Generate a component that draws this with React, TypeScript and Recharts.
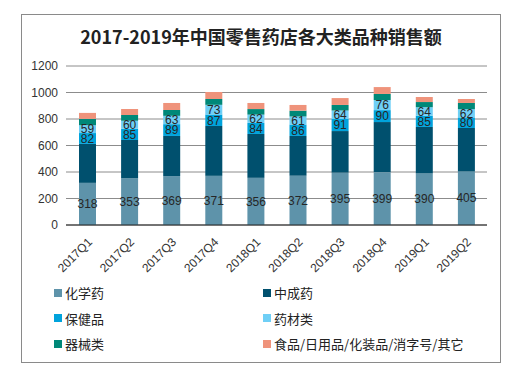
import React from 'react';
import { BarChart, Bar, XAxis, YAxis, CartesianGrid, LabelList } from 'recharts';

const quarters = ['2017Q1', '2017Q2', '2017Q3', '2017Q4', '2018Q1', '2018Q2', '2018Q3', '2018Q4', '2019Q1', '2019Q2'];
const chemical = [318, 353, 369, 371, 356, 372, 395, 399, 390, 405];
const tcm = [294, 289, 303, 376, 331, 300, 314, 378, 350, 327];
const health = [82, 85, 89, 87, 84, 86, 91, 90, 85, 80];
const herbs = [59, 60, 63, 73, 62, 61, 64, 76, 64, 62];
const devices = [48, 44, 44, 44, 42, 44, 42, 46, 39, 47];
const others = [45, 45, 53, 53, 46, 43, 52, 52, 38, 30];
const yTicks = [0, 200, 400, 600, 800, 1000, 1200];

const series = [
    { key: 'chemical', name: '化学药', color: '#5E93AA', values: chemical, label: true },
    { key: 'tcm', name: '中成药', color: '#00506E', values: tcm, label: false },
    { key: 'health', name: '保健品', color: '#00A3DC', values: health, label: true },
    { key: 'herbs', name: '药材类', color: '#6FCFF6', values: herbs, label: true },
    { key: 'devices', name: '器械类', color: '#008878', values: devices, label: false },
    { key: 'others', name: '食品/日用品/化装品/消字号/其它', color: '#EF937B', values: others, label: false },
];

const data = quarters.map((q, i) => {
    const row: Record<string, string | number> = { quarter: q };
    series.forEach(s => { row[s.key] = s.values[i]; });
    return row;
});

const font = "Arial, 'Liberation Sans', 'Noto Sans CJK SC', sans-serif";
const cjk = "'Noto Sans CJK SC', sans-serif";

// rotated quarter labels, ending just right of the category centre
const XTick = (props: any) => {
    const { x, y, payload } = props;
    const tx = x + 3;
    const ty = y + 7;
    return (
        <text x={tx} y={ty} transform={`rotate(-45 ${tx} ${ty})`} textAnchor="end"
            fontSize={12} fill="#333" fontFamily={font} dominantBaseline="central">
            {payload.value}
        </text>
    );
};

const App = () => {
    return (
        <div style={{ position: 'absolute', left: 0, top: 0, width: 528, height: 384, background: '#fff', fontFamily: font }}>
            <div style={{ position: 'absolute', left: 21, top: 14, width: 478, height: 347, border: '1px solid #8a8a8a' }} />
            <div style={{
                position: 'absolute', left: 21, top: 23, width: 480, textAlign: 'center',
                fontSize: 18, fontWeight: 'bold', color: '#222', fontFamily: cjk
            }}>
                2017-2019年中国零售药店各大类品种销售额
            </div>
            <BarChart width={528} height={384} data={data}
                margin={{ top: 66, right: 41, left: 21, bottom: 99 }}
                style={{ position: 'absolute', left: 0, top: 0 }}>
                <CartesianGrid vertical={false} stroke="#8c8c8c" />
                <XAxis dataKey="quarter" axisLine={{ stroke: '#222' }} tickLine={false} interval={0}
                    height={60} tick={<XTick />} />
                <YAxis domain={[0, 1200]} ticks={yTicks} width={45} axisLine={false} tickLine={false}
                    tick={{ fontSize: 12, fill: '#333', fontFamily: font }} />
                {series.map(s => (
                    <Bar key={s.key} dataKey={s.key} name={s.name} stackId="a" fill={s.color}
                        barSize={17} isAnimationActive={false}>
                        {s.label && (
                            <LabelList dataKey={s.key} position="center" fontSize={12} fill="#262626"
                                fontFamily={font} />
                        )}
                    </Bar>
                ))}
            </BarChart>
            {series.map((s, i) => (
                <div key={s.key} style={{
                    position: 'absolute', left: i % 2 === 0 ? 54 : 263, top: 283 + Math.floor(i / 2) * 25.5,
                    display: 'flex', alignItems: 'center', fontSize: 13, color: '#222', whiteSpace: 'nowrap'
                }}>
                    <span style={{ display: 'inline-block', width: 8, height: 8, background: s.color, marginRight: 3 }} />
                    <span style={{ fontFamily: cjk }}>{s.name}</span>
                </div>
            ))}
        </div>
    );
};

export default App;
